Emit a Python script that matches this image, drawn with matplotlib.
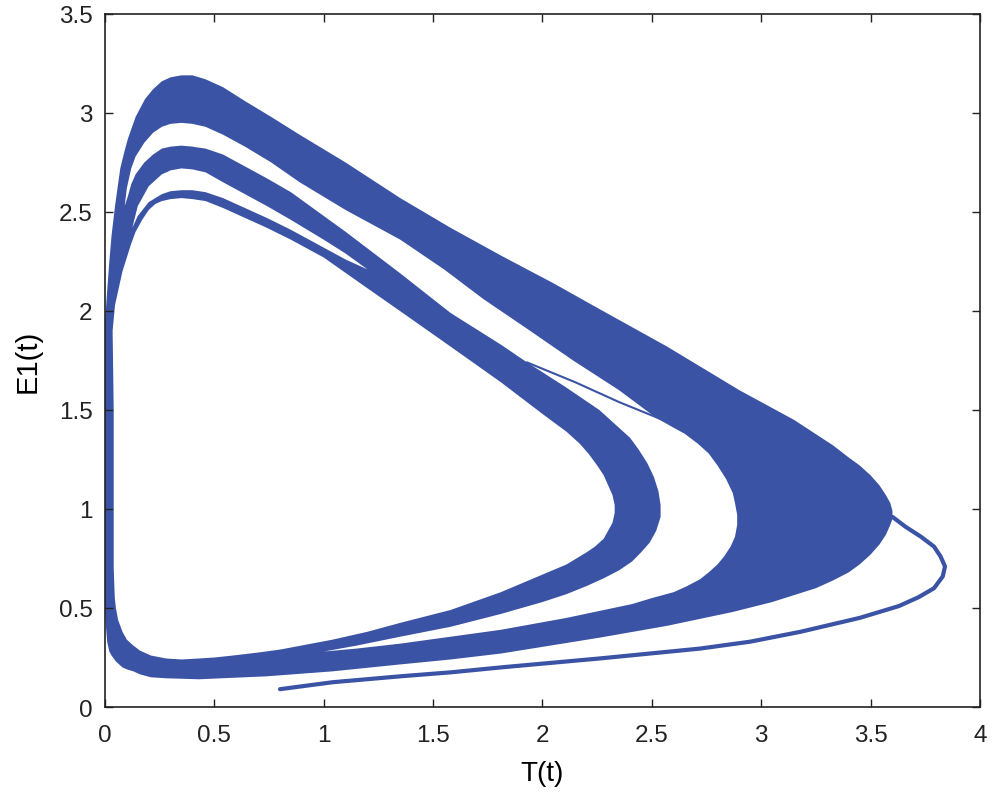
import matplotlib
matplotlib.use('Agg')
from matplotlib import pyplot as plt

plt.rcParams['font.family'] = ['Liberation Sans', 'DejaVu Sans']

blue = '#3a53a5'

# outer outline of the whole attractor (T, E1)
outline_T = [0.22, 0.26, 0.30, 0.35, 0.40, 0.46, 0.54, 0.64, 0.76, 0.89, 1.10, 1.35, 1.58, 1.81,
             2.05, 2.26, 2.57, 2.90, 3.15, 3.33, 3.40, 3.45, 3.50, 3.54, 3.57, 3.59, 3.60, 3.60,
             3.59, 3.57, 3.54, 3.50, 3.45, 3.40, 3.33, 3.25, 3.05, 2.87, 2.57, 2.26, 1.81, 1.58,
             1.35, 1.04, 0.74, 0.43, 0.28, 0.21, 0.16, 0.13, 0.10, 0.08, 0.05, 0.03, 0.02, 0.01,
             0.005, 0.00, 0.00, 0.00, 0.00, 0.01, 0.02, 0.03, 0.046, 0.07, 0.09, 0.105, 0.14, 0.183]
outline_E = [3.12, 3.16, 3.18, 3.19, 3.19, 3.17, 3.13, 3.06, 2.98, 2.89, 2.75, 2.57, 2.42, 2.28,
             2.14, 2.01, 1.82, 1.60, 1.45, 1.32, 1.26, 1.22, 1.17, 1.12, 1.07, 1.03, 0.99, 0.95,
             0.92, 0.87, 0.82, 0.77, 0.72, 0.68, 0.64, 0.60, 0.53, 0.48, 0.41, 0.35, 0.27, 0.24,
             0.215, 0.18, 0.155, 0.14, 0.145, 0.15, 0.165, 0.18, 0.19, 0.20, 0.23, 0.26, 0.28, 0.33,
             0.40, 0.5, 1.0, 1.6, 1.94, 2.10, 2.25, 2.38, 2.53, 2.72, 2.81, 2.87, 2.98, 3.07]

# gap between the outer band and the inner band
gap1_T = [0.09, 0.10, 0.12, 0.14, 0.18, 0.22, 0.26, 0.30, 0.35, 0.40, 0.46, 0.54, 0.64, 0.76,
          0.89, 1.10, 1.35, 1.55, 1.73, 1.93, 2.14, 2.35, 2.52, 2.60, 2.65, 2.71, 2.76, 2.80,
          2.84, 2.87, 2.88, 2.89, 2.89, 2.88, 2.86, 2.83, 2.80, 2.76, 2.72, 2.66, 2.60, 2.50,
          2.41, 2.11, 1.81, 1.58, 1.35, 1.15, 1.00,
          1.15, 1.35, 1.58, 1.81, 2.00, 2.11, 2.20, 2.28, 2.35, 2.41, 2.45, 2.49, 2.52, 2.54,
          2.54, 2.53, 2.51, 2.48, 2.44, 2.40, 2.33, 2.26, 2.10, 1.93, 1.81, 1.58, 1.35, 1.10,
          0.85, 0.74, 0.64, 0.54, 0.46, 0.40, 0.35, 0.30, 0.26, 0.22, 0.18, 0.14, 0.12, 0.105]
gap1_E = [2.53, 2.62, 2.72, 2.78, 2.85, 2.90, 2.93, 2.945, 2.95, 2.945, 2.93, 2.89, 2.83, 2.75,
          2.65, 2.51, 2.36, 2.21, 2.06, 1.91, 1.75, 1.60, 1.46, 1.41, 1.38, 1.33, 1.28, 1.22,
          1.15, 1.08, 1.03, 0.97, 0.92, 0.86, 0.81, 0.76, 0.72, 0.68, 0.645, 0.61, 0.58, 0.55,
          0.52, 0.45, 0.39, 0.355, 0.32, 0.295, 0.28,
          0.31, 0.355, 0.405, 0.47, 0.53, 0.57, 0.61, 0.65, 0.69, 0.735, 0.78, 0.83, 0.89, 0.96,
          1.02, 1.09, 1.16, 1.23, 1.30, 1.36, 1.43, 1.50, 1.62, 1.74, 1.83, 1.99, 2.19, 2.40,
          2.60, 2.67, 2.73, 2.79, 2.82, 2.83, 2.835, 2.83, 2.82, 2.79, 2.75, 2.69, 2.64, 2.58]

# gap between the middle band and the thin top band
gap2_T = [0.125, 0.15, 0.20, 0.26, 0.30, 0.35, 0.40, 0.46, 0.54, 0.64, 0.74, 0.85, 1.00, 1.10, 1.20,
          1.10, 1.00, 0.85, 0.74, 0.64, 0.54, 0.46, 0.40, 0.35, 0.30, 0.26, 0.20, 0.15]
gap2_E = [2.42, 2.53, 2.63, 2.69, 2.71, 2.72, 2.715, 2.70, 2.65, 2.59, 2.53, 2.46, 2.36, 2.29, 2.21,
          2.26, 2.32, 2.41, 2.47, 2.52, 2.57, 2.60, 2.61, 2.61, 2.605, 2.59, 2.55, 2.48]

# empty middle of the portrait
hole_T = [0.12, 0.14, 0.17, 0.20, 0.23, 0.26, 0.30, 0.35, 0.40, 0.46, 0.54, 0.64, 0.74, 0.85,
          1.00, 1.18, 1.40, 1.58, 1.81, 2.00, 2.11, 2.17, 2.21, 2.25, 2.28, 2.30, 2.32, 2.33,
          2.33, 2.32, 2.30, 2.28, 2.24, 2.20, 2.11, 1.81, 1.58, 1.35, 1.20, 1.04, 0.92, 0.80,
          0.70, 0.585, 0.50, 0.43, 0.35, 0.28, 0.21, 0.16, 0.13, 0.10, 0.08, 0.06, 0.05, 0.045,
          0.04, 0.04, 0.04, 0.035, 0.046, 0.08]
hole_E = [2.34, 2.40, 2.46, 2.51, 2.54, 2.555, 2.565, 2.57, 2.565, 2.555, 2.52, 2.47, 2.42, 2.36,
          2.27, 2.13, 1.96, 1.82, 1.64, 1.48, 1.39, 1.33, 1.28, 1.22, 1.17, 1.12, 1.07, 1.02,
          0.98, 0.93, 0.89, 0.85, 0.81, 0.78, 0.72, 0.58, 0.49, 0.425, 0.38, 0.34, 0.315, 0.29,
          0.275, 0.26, 0.25, 0.245, 0.24, 0.245, 0.26, 0.285, 0.31, 0.34, 0.38, 0.44, 0.50, 0.55,
          0.7, 0.8, 1.5, 1.9, 2.03, 2.2]

# thin strand crossing the gap
split_T = [1.93, 2.15, 2.35, 2.55]
split_E = [1.74, 1.64, 1.54, 1.45]

# initial part of the trajectory
start_T = [0.80, 1.04, 1.35, 1.58, 1.81, 2.26, 2.72, 2.95, 3.18, 3.45, 3.63, 3.72, 3.79, 3.83,
           3.84, 3.82, 3.79, 3.73, 3.66, 3.60]
start_E = [0.09, 0.125, 0.155, 0.175, 0.20, 0.245, 0.295, 0.33, 0.38, 0.45, 0.51, 0.555, 0.60,
           0.66, 0.71, 0.76, 0.81, 0.86, 0.91, 0.96]

xticks = [0, 0.5, 1, 1.5, 2, 2.5, 3, 3.5, 4]
xlabels = ['0', '0.5', '1', '1.5', '2', '2.5', '3', '3.5', '4']
yticks = [0, 0.5, 1, 1.5, 2, 2.5, 3, 3.5]
ylabels = ['0', '0.5', '1', '1.5', '2', '2.5', '3', '3.5']

fig = plt.figure(figsize=(9.94, 8.04), dpi=100)
ax = fig.add_axes([0.1056, 0.1194, 0.8803, 0.8620])

ax.fill(outline_T, outline_E, color=blue, lw=0, zorder=1)
ax.fill(gap1_T, gap1_E, color='white', lw=0, zorder=2)
ax.fill(gap2_T, gap2_E, color='white', lw=0, zorder=2)
ax.fill(hole_T, hole_E, color='white', lw=0, zorder=2)
ax.plot(split_T, split_E, color=blue, lw=1.5, zorder=3)
ax.plot(start_T, start_E, color=blue, lw=3, solid_capstyle='round', zorder=3)

ax.set_xlim(0, 4)
ax.set_ylim(0, 3.5)
ax.set_xticks(xticks)
ax.set_xticklabels(xlabels)
ax.set_yticks(yticks)
ax.set_yticklabels(ylabels)
ax.tick_params(direction='in', length=6, width=1, top=True, right=True,
               labelsize=17.5, colors='#222222')
ax.tick_params(axis='x', pad=12)
ax.tick_params(axis='y', pad=9)
for s in ax.spines.values():
    s.set_linewidth(1.2)
    s.set_color('#222222')

ax.set_xlabel('T(t)', fontsize=20, labelpad=10)
ax.set_ylabel('E1(t)', fontsize=21, labelpad=12)

plt.savefig('out.png', dpi=100)
